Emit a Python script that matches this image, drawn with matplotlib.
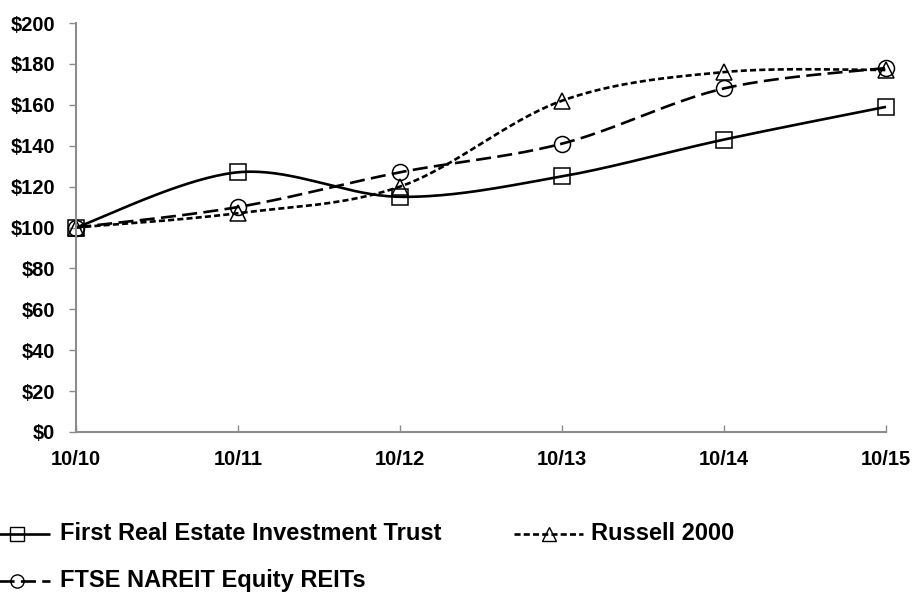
import numpy as np
import matplotlib.pyplot as plt
from matplotlib.lines import Line2D

plt.rcParams['font.family'] = ['Liberation Sans', 'DejaVu Sans']
plt.rcParams['font.weight'] = 'bold'

years = ['10/10', '10/11', '10/12', '10/13', '10/14', '10/15']
first_reit = [100, 127, 115, 125, 143, 159]
russell_2000 = [100, 107, 120, 162, 176, 177]
ftse_nareit = [100, 110, 127, 141, 168, 178]


def smooth(y, n=40):
    # catmull-rom style curve, like excel's "smoothed line"
    x = np.arange(len(y), dtype=float)
    y = np.asarray(y, dtype=float)
    px = np.concatenate([[x[0]], x, [x[-1]]])
    py = np.concatenate([[y[0]], y, [y[-1]]])
    xs, ys = [], []
    t = np.linspace(0, 1, n)
    for i in range(1, len(px) - 2):
        p0 = np.array([px[i], py[i]])
        p3 = np.array([px[i + 1], py[i + 1]])
        c1 = p0 + (np.array([px[i + 1], py[i + 1]]) - np.array([px[i - 1], py[i - 1]])) / 6
        c2 = p3 - (np.array([px[i + 2], py[i + 2]]) - np.array([px[i], py[i]])) / 6
        pts = ((1 - t) ** 3)[:, None] * p0 + (3 * (1 - t) ** 2 * t)[:, None] * c1 \
            + (3 * (1 - t) * t ** 2)[:, None] * c2 + (t ** 3)[:, None] * p3
        xs.extend(pts[:, 0])
        ys.extend(pts[:, 1])
    return np.array(xs), np.array(ys)


fig = plt.figure(figsize=(9.17, 5.99), dpi=100)
ax = fig.add_axes([0.0829, 0.2788, 0.8833, 0.6828])

dash_short = (0, (2.3, 1.2))
dash_long = (0, (5.7, 2.4))

series = [
    (first_reit, 's', (0, ()), 'First Real Estate Investment Trust'),
    (russell_2000, '^', dash_short, 'Russell 2000'),
    (ftse_nareit, 'o', dash_long, 'FTSE NAREIT Equity REITs'),
]

x = np.arange(len(years))
for vals, mk, ls, name in series:
    sx, sy = smooth(vals)
    ax.plot(sx, sy, color='black', lw=1.9, linestyle=ls, clip_on=False)
    ax.plot(x, vals, linestyle='none', marker=mk, markersize=11.5, clip_on=False,
            markerfacecolor='none', markeredgecolor='black', markeredgewidth=1.1)

ax.set_xlim(0, 5)
ax.set_ylim(0, 200)
ax.set_yticks(np.arange(0, 201, 20))
ax.set_yticklabels(['${}'.format(v) for v in range(0, 201, 20)])
ax.set_xticks(x)
ax.set_xticklabels(years)

for s in ['top', 'right']:
    ax.spines[s].set_visible(False)
for s in ['left', 'bottom']:
    ax.spines[s].set_color('#8c8c8c')
    ax.spines[s].set_linewidth(1.5)

ax.tick_params(axis='y', direction='out', length=5, width=1, color='#8c8c8c',
               labelsize=14.5, pad=10)
ax.tick_params(axis='x', direction='in', length=5, width=1, color='#8c8c8c',
               labelsize=14.5, pad=13)
for lab in ax.get_xticklabels() + ax.get_yticklabels():
    lab.set_fontweight('bold')

# legend drawn by hand, the first column is clipped at the left edge like the original
legend_items = [
    (first_reit, 's', (0, ()), 'First Real Estate Investment Trust', -16, 50, 60, 534),
    (russell_2000, '^', dash_short, 'Russell 2000', 514, 583, 591, 534),
    (ftse_nareit, 'o', dash_long, 'FTSE NAREIT Equity REITs', -16, 50, 60, 581),
]
W, H = 917, 599
for vals, mk, ls, name, x0, x1, tx, ty in legend_items:
    yy = 1 - ty / H
    fig.add_artist(Line2D([x0 / W, x1 / W], [yy, yy], color='black', lw=1.9,
                          linestyle=ls, transform=fig.transFigure))
    fig.add_artist(Line2D([(x0 + x1) / 2 / W], [yy], marker=mk, markersize=9.5,
                          markerfacecolor='none', markeredgecolor='black',
                          markeredgewidth=1, transform=fig.transFigure))
    fig.text(tx / W, yy, name, fontsize=17, fontweight='bold', va='center', ha='left')

fig.savefig('out.png', dpi=100)
